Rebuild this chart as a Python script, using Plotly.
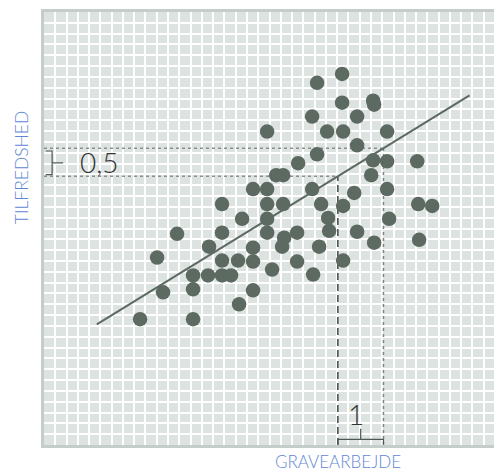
import plotly.graph_objects as go

# ---- data (grid-cell units, 40 x 40 grid) ----
gravearbejde = [8.52, 13.22, 10.56, 10.03, 11.80, 13.22, 13.22, 14.55, 14.64, 15.79,
                15.79, 15.79, 15.79, 16.59, 17.21, 17.30, 17.57, 18.54, 18.54, 18.54,
                18.54, 19.79, 19.79, 19.79, 19.79, 20.23, 20.59, 21.21, 21.21, 21.30,
                21.12, 22.45, 22.45, 23.87, 24.40, 24.58, 25.20, 25.29, 23.78, 22.54,
                24.22, 19.79, 23.78, 24.22, 26.44, 26.44, 29.19, 29.28, 27.77, 25.11,
                26.53, 30.43, 27.77, 29.19, 30.43, 33.10, 29.02, 27.51, 30.43, 26.53,
                33.19, 34.43, 30.61, 27.77, 29.28, 33.27, 26.53]
tilfredshed = [11.62, 11.62, 14.10, 17.31, 19.51, 14.38, 15.66, 15.66, 18.32, 22.26,
               19.61, 17.04, 15.66, 15.66, 17.04, 13.00, 20.89, 23.64, 18.23, 16.94,
               14.29, 23.64, 22.26, 20.89, 19.61, 16.21, 24.93, 24.93, 22.26, 19.15,
               18.32, 19.61, 16.94, 15.75, 18.32, 22.26, 20.98, 19.79, 23.64, 26.03,
               26.85, 28.96, 30.34, 33.46, 34.28, 31.62, 31.81, 31.44, 30.34, 28.96,
               28.96, 28.96, 27.68, 26.30, 26.21, 26.21, 24.93, 23.28, 23.64, 22.08,
               22.26, 22.08, 20.89, 19.70, 18.69, 18.96, 17.04]
trend_x = [4.68, 37.74]
trend_y = [11.14, 32.29]
guide_x = [26.06, 30.11]          # x positions of the two vertical guides (1 unit apart)
labels = {"x": "GRAVEARBEJDE", "y": "TILFREDSHED", "dx": "1", "dy": "0,5"}

GRID_N = 40
BG = "#dde3e0"
BORDER = "#c5cdc9"
DOT = "#5c6a62"
BLUE = "#5f87d6"
FONT = "Lato"

slope = (trend_y[1] - trend_y[0]) / (trend_x[1] - trend_x[0])
guide_y = [trend_y[0] + slope * (gx - trend_x[0]) for gx in guide_x]

fig = go.Figure()

# guides
fig.add_trace(go.Scatter(x=[guide_x[0], guide_x[0]], y=[0, guide_y[0]], mode="lines",
                         line=dict(color="#4a554f", width=1.6, dash="7px,4px"),
                         hoverinfo="skip", showlegend=False))
fig.add_trace(go.Scatter(x=[guide_x[1], guide_x[1]], y=[0, guide_y[1]], mode="lines",
                         line=dict(color="#7d8581", width=1.5, dash="dot"),
                         hoverinfo="skip", showlegend=False))
for gx, gy in zip(guide_x, guide_y):
    fig.add_trace(go.Scatter(x=[0, gx], y=[gy, gy], mode="lines",
                             line=dict(color="#8a918d", width=1.5, dash="dot"),
                             hoverinfo="skip", showlegend=False))

# trend line
fig.add_trace(go.Scatter(x=trend_x, y=trend_y, mode="lines",
                         line=dict(color=DOT, width=2), hoverinfo="skip", showlegend=False))

# points
fig.add_trace(go.Scatter(x=gravearbejde, y=tilfredshed, mode="markers",
                         marker=dict(size=14.5, color=DOT, line=dict(width=0)),
                         showlegend=False))

# brackets
yb_top = guide_y[1] - 0.25
yb_bot = guide_y[0] + 0.15
yb_mid = (yb_top + yb_bot) / 2
bx = 0.72
fig.add_trace(go.Scatter(x=[0.15, bx, bx, 0.15], y=[yb_top, yb_top, yb_bot, yb_bot],
                         mode="lines", line=dict(color="#4f5a54", width=1.2),
                         hoverinfo="skip", showlegend=False))
fig.add_trace(go.Scatter(x=[bx, 1.7], y=[yb_mid, yb_mid], mode="lines",
                         line=dict(color="#4f5a54", width=1.2), hoverinfo="skip", showlegend=False))
xb_mid = (guide_x[0] + guide_x[1]) / 2
fig.add_trace(go.Scatter(x=[guide_x[0], guide_x[0], guide_x[1], guide_x[1]],
                         y=[0.06, 0.52, 0.52, 0.06], mode="lines",
                         line=dict(color="#4f5a54", width=1.2), hoverinfo="skip", showlegend=False))
fig.add_trace(go.Scatter(x=[xb_mid, xb_mid], y=[0.52, 1.5], mode="lines",
                         line=dict(color="#4f5a54", width=1.2), hoverinfo="skip", showlegend=False))

fig.add_annotation(x=3.0, y=yb_mid + 0.05, xref="x", yref="y", text=labels["dy"],
                   showarrow=False, xanchor="left", yanchor="middle",
                   font=dict(family=FONT, size=28, color="#333333", weight=300))
fig.add_annotation(x=xb_mid - 0.4, y=2.9, xref="x", yref="y", text=labels["dx"],
                   showarrow=False, xanchor="center", yanchor="middle",
                   font=dict(family=FONT, size=28, color="#333333", weight=300))
fig.add_annotation(x=guide_x[0], y=-0.038, xref="x", yref="paper", text=labels["x"],
                   showarrow=False, xanchor="center", yanchor="middle",
                   font=dict(family=FONT, size=17, color=BLUE, weight=300))
fig.add_annotation(x=-0.05, y=25.7, xref="paper", yref="y", text=labels["y"],
                   showarrow=False, textangle=-90, xanchor="center", yanchor="middle",
                   font=dict(family=FONT, size=17.5, color=BLUE, weight=300))

axis_common = dict(range=[0, GRID_N], dtick=1, tick0=0, showgrid=True, gridcolor="white",
                   gridwidth=2, zeroline=False, showticklabels=False, ticks="",
                   showline=True, linecolor=BORDER, linewidth=3, mirror=True, fixedrange=True)
fig.update_xaxes(**axis_common)
fig.update_yaxes(**axis_common)

# page body has an 8px margin, so the figure is sized to fit the 502x473 window
fig.update_layout(width=494, height=465, margin=dict(l=36, r=7, t=1, b=28),
                  plot_bgcolor=BG, paper_bgcolor="white", showlegend=False)

fig.write_html("out.html")
